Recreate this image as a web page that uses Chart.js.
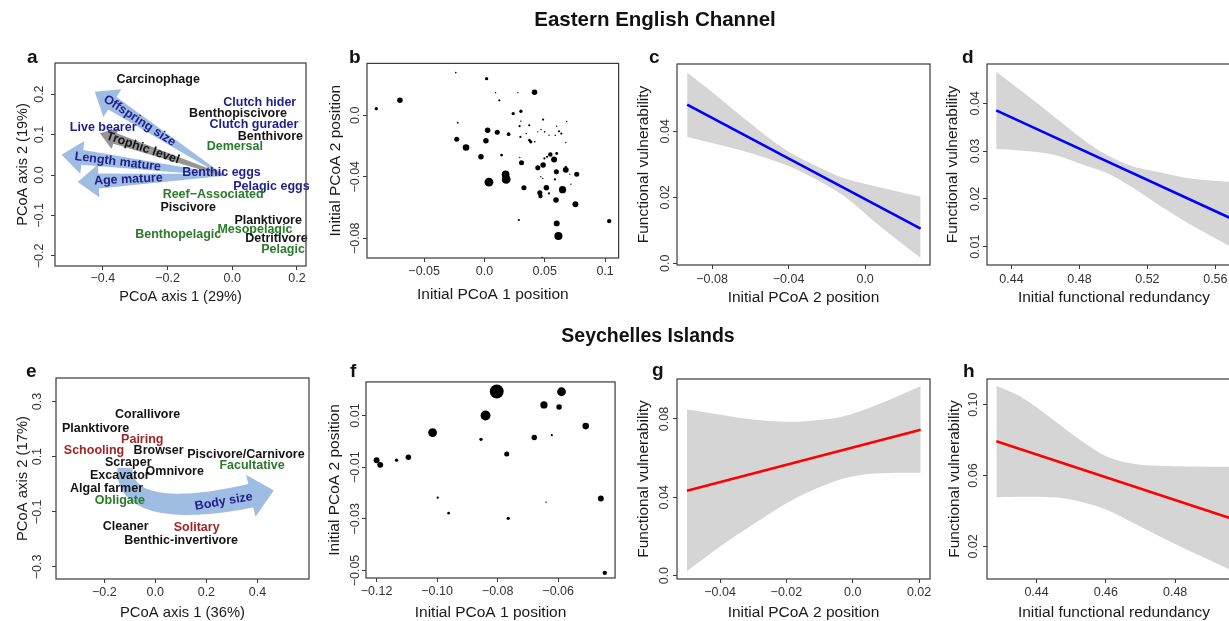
<!DOCTYPE html>
<html>
<head>
<meta charset="utf-8">
<title>Functional vulnerability</title>
<script src="https://cdn.jsdelivr.net/npm/chart.js@4.4.1/dist/chart.umd.min.js"></script>
<style>
  html, body { margin: 0; padding: 0; background: #fff; }
  body { width: 1229px; height: 621px; overflow: hidden; position: relative; }
  canvas { position: absolute; }
</style>
</head>
<body>
<canvas id="headings" width="1229" height="621" style="left:0;top:0;z-index:2"></canvas>
<script>
// ---------- panel a : trait space, English Channel ----------
var aXTicks = [-0.4, -0.2, 0.0, 0.2];
var aXLabels = ['\u22120.4', '\u22120.2', '0.0', '0.2'];
var aYTicks = [-0.2, -0.1, 0.0, 0.1, 0.2];
var aYLabels = ['\u22120.2', '\u22120.1', '0.0', '0.1', '0.2'];
var aTraitNames = ['Carcinophage', 'Clutch hider', 'Benthopiscivore', 'Clutch gurader', 'Benthivore', 'Demersal',
  'Live bearer', 'Benthic eggs', 'Pelagic eggs', 'Reef\u2212Associated', 'Piscivore', 'Planktivore',
  'Mesopelagic', 'Benthopelagic', 'Detritivore', 'Pelagic'];
var aTraitX = [-0.229, 0.085, 0.018, 0.067, 0.118, 0.008, -0.399, -0.033, 0.121, -0.059, -0.136, 0.111, 0.070, -0.167, 0.137, 0.157];
var aTraitY = [0.235, 0.178, 0.151, 0.124, 0.094, 0.070, 0.118, 0.006, -0.029, -0.048, -0.080, -0.113, -0.134, -0.148, -0.156, -0.185];
var aTraitKind = ['diet', 'repro', 'diet', 'repro', 'diet', 'habitat', 'repro', 'repro', 'repro', 'habitat', 'diet', 'diet',
  'habitat', 'habitat', 'diet', 'habitat'];
// continuous traits: arrow from origin to loading
var aArrowNames = ['Offspring size', 'Length mature', 'Age mature', 'Trophic level'];
var aArrowX = [-0.425, -0.528, -0.478, -0.409];
var aArrowY = [0.206, 0.050, -0.017, 0.103];
var aArrowOrigin = [-0.03, 0.0];

// ---------- panel b : species positions ----------
var bXTicks = [-0.05, 0.0, 0.05, 0.1];
var bXLabels = ['\u22120.05', '0.0', '0.05', '0.1'];
var bYTicks = [-0.08, -0.04, 0.0];
var bYLabels = ['\u22120.08', '\u22120.04', '0.0'];
var bX = [-0.0238, 0.0018, -0.0701, -0.0897, 0.0092, 0.0123, 0.0277, 0.0415, -0.0222, 0.0238, 0.0302, 0.0302,
  0.0291, 0.0371, 0.0486, 0.0026, 0.0106, 0.0200, 0.0298, 0.0347, 0.0384, 0.0373, 0.0417, 0.0442,
  0.0469, 0.0499, 0.0535, 0.0587, 0.0618, 0.0637, 0.0599, 0.0682, 0.0674, -0.0230, -0.0153, -0.0029,
  0.0012, 0.0142, 0.0307, 0.0293, 0.0442, 0.0486, 0.0497, 0.0519, 0.0546, 0.0599, 0.0577, 0.0596,
  0.0674, 0.0674, 0.0765, 0.0707, 0.0467, 0.0483, 0.0584, 0.0716, 0.0175, 0.0180, 0.0037, 0.0327,
  0.0459, 0.0513, 0.0535, 0.0464, 0.0647, 0.0593, 0.0754, 0.0285, 0.0599, 0.0613, 0.1034, 0.0478];
var bY = [0.0277, 0.0238, 0.0097, 0.0043, 0.0147, 0.0097, 0.0147, 0.0149, -0.0048, 0.0011, 0.0026, -0.0039,
  -0.0071, -0.0065, -0.0028, -0.0097, -0.0110, -0.0123, -0.0141, -0.0119, -0.0173, -0.0162, -0.0173, -0.0108,
  -0.0093, -0.0108, -0.0130, -0.0130, -0.0104, -0.0119, -0.0071, -0.0041, -0.0177, -0.0156, -0.0210, -0.0270,
  -0.0166, -0.0259, -0.0309, -0.0275, -0.0342, -0.0324, -0.0281, -0.0270, -0.0255, -0.0249, -0.0288, -0.0368,
  -0.0355, -0.0335, -0.0383, -0.0383, -0.0400, -0.0411, -0.0417, -0.0448, -0.0385, -0.0417, -0.0435, -0.0471,
  -0.0504, -0.0471, -0.0508, -0.0525, -0.0484, -0.0551, -0.0579, -0.0681, -0.0703, -0.0785, -0.0688, -0.0925];
// relative species weight (drawn as symbol size)
var bWeight = [0.7, 1.5, 2.5, 1.5, 0.6, 1.0, 0.6, 2.5, 0.8, 1.5, 1.5, 0.6,
  1.0, 1.0, 1.0, 2.5, 2.3, 1.7, 1.0, 0.7, 1.5, 1.2, 0.7, 0.6,
  0.6, 0.7, 0.5, 0.7, 1.0, 1.0, 0.4, 0.4, 0.6, 2.3, 3.0, 2.5,
  2.5, 1.3, 2.3, 0.6, 2.3, 2.5, 1.0, 1.0, 2.0, 1.3, 2.7, 2.3,
  2.7, 1.0, 2.3, 0.4, 0.5, 0.5, 1.0, 0.5, 3.5, 4.0, 4.0, 2.3,
  2.3, 2.5, 1.0, 2.0, 3.3, 2.5, 2.7, 1.0, 2.7, 3.7, 2.0, 0.7];

// ---------- panel c : vulnerability vs PCoA 2 ----------
var cXTicks = [-0.08, -0.04, 0.0];
var cXLabels = ['\u22120.08', '\u22120.04', '0.0'];
var cYTicks = [0.0, 0.02, 0.04];
var cYLabels = ['0.0', '0.02', '0.04'];
var cBandX = [-0.093, -0.08, -0.064, -0.041, -0.029, -0.011, 0.006, 0.029];
var cUpper = [0.0578, 0.0519, 0.0443, 0.0342, 0.0305, 0.0258, 0.0233, 0.0202];
var cLower = [0.0383, 0.0365, 0.0341, 0.0297, 0.0265, 0.0204, 0.0121, 0.0016];
var cFitX = [-0.093, 0.029];
var cFitY = [0.0481, 0.0105];

// ---------- panel d : vulnerability vs redundancy ----------
var dXTicks = [0.44, 0.48, 0.52, 0.56];
var dXLabels = ['0.44', '0.48', '0.52', '0.56'];
var dYTicks = [0.01, 0.02, 0.03, 0.04];
var dYLabels = ['0.01', '0.02', '0.03', '0.04'];
var dBandX = [0.431, 0.445, 0.465, 0.480, 0.496, 0.512, 0.528, 0.544, 0.570];
var dUpper = [0.0466, 0.0428, 0.0372, 0.0330, 0.0292, 0.0267, 0.0255, 0.0243, 0.0235];
var dLower = [0.0304, 0.0301, 0.0292, 0.0274, 0.0254, 0.0222, 0.0184, 0.0149, 0.0098];
var dFitX = [0.431, 0.570];
var dFitY = [0.0385, 0.0158];

// ---------- panel e : trait space, Seychelles ----------
var eXTicks = [-0.2, 0.0, 0.2, 0.4];
var eXLabels = ['\u22120.2', '0.0', '0.2', '0.4'];
var eYTicks = [-0.3, -0.1, 0.1, 0.3];
var eYLabels = ['\u22120.3', '\u22120.1', '0.1', '0.3'];
var eTraitNames = ['Corallivore', 'Planktivore', 'Pairing', 'Schooling', 'Browser', 'Piscivore/Carnivore', 'Facultative',
  'Scraper', 'Omnivore', 'Excavator', 'Algal farmer', 'Obligate', 'Cleaner', 'Solitary', 'Benthic-invertivore'];
var eTraitX = [-0.030, -0.234, -0.051, -0.240, 0.013, 0.355, 0.379, -0.106, 0.076, -0.139, -0.191, -0.139, -0.116, 0.162, 0.101];
var eTraitY = [0.251, 0.201, 0.163, 0.122, 0.122, 0.109, 0.069, 0.078, 0.046, 0.030, -0.016, -0.059, -0.154, -0.156, -0.204];
var eTraitKind = ['diet', 'diet', 'social', 'social', 'diet', 'diet', 'coral', 'diet', 'diet', 'diet', 'diet', 'coral',
  'diet', 'social', 'diet'];
// body size gradient: bezier path then arrow tip
var eSizePathX = [-0.119, -0.123, 0.018, 0.374];
var eSizePathY = [0.059, -0.057, -0.111, -0.042];
var eSizeTip = [0.464, -0.023];
var eSizeLabel = [0.268, -0.063];

// ---------- panel f : species positions ----------
var fXTicks = [-0.12, -0.10, -0.08, -0.06];
var fXLabels = ['\u22120.12', '\u22120.10', '\u22120.08', '\u22120.06'];
var fYTicks = [-0.05, -0.03, -0.01, 0.01];
var fYLabels = ['\u22120.05', '\u22120.03', '\u22120.01', '0.01'];
var fX = [-0.0803, -0.0589, -0.0647, -0.0597, -0.0840, -0.0509, -0.1015, -0.0855, -0.0679, -0.0621, -0.0770,
  -0.1200, -0.1188, -0.1134, -0.1095, -0.0998, -0.0962, -0.0765, -0.0640, -0.0459, -0.0446];
var fY = [0.0193, 0.0192, 0.0141, 0.0133, 0.0100, 0.0059, 0.0034, 0.0008, 0.0015, 0.0024, -0.0049,
  -0.0073, -0.0091, -0.0073, -0.0062, -0.0218, -0.0278, -0.0298, -0.0236, -0.0221, -0.0509];
var fWeight = [6.3, 4.0, 3.3, 2.5, 4.5, 3.0, 4.0, 1.5, 2.5, 1.0, 2.3, 2.7, 2.7, 1.5, 2.5, 1.0, 1.2, 1.5, 0.6, 2.7, 2.0];

// ---------- panel g : vulnerability vs PCoA 2 ----------
var gXTicks = [-0.04, -0.02, 0.0, 0.02];
var gXLabels = ['\u22120.04', '\u22120.02', '0.0', '0.02'];
var gYTicks = [0.0, 0.04, 0.08];
var gYLabels = ['0.0', '0.04', '0.08'];
var gBandX = [-0.050, -0.040, -0.030, -0.020, -0.013, -0.003, 0.007, 0.0205];
var gUpper = [0.0848, 0.0822, 0.0797, 0.0786, 0.0790, 0.0812, 0.0870, 0.0967];
var gLower = [0.0022, 0.0149, 0.0262, 0.0370, 0.0430, 0.0495, 0.0522, 0.0525];
var gFitX = [-0.050, 0.0205];
var gFitY = [0.0434, 0.0745];

// ---------- panel h : vulnerability vs redundancy ----------
var hXTicks = [0.44, 0.46, 0.48];
var hXLabels = ['0.44', '0.46', '0.48'];
var hYTicks = [0.02, 0.06, 0.10];
var hYLabels = ['0.02', '0.06', '0.10'];
var hBandX = [0.4284, 0.4352, 0.4448, 0.4525, 0.4602, 0.4679, 0.4756, 0.4834, 0.4962];
var hUpper = [0.1107, 0.1047, 0.0915, 0.0802, 0.0708, 0.0667, 0.0655, 0.0651, 0.0650];
var hLower = [0.0478, 0.0481, 0.0478, 0.0454, 0.0407, 0.0332, 0.0256, 0.0181, 0.0065];
var hFitX = [0.4284, 0.4962];
var hFitY = [0.0793, 0.0357];

// ---------- drawing ----------
var FONT = '"Liberation Sans", Arial, Helvetica, sans-serif';
Chart.defaults.font.family = FONT;
Chart.defaults.animation = false;

var KIND_COLOR = { diet: '#141414', repro: '#1e1e8c', habitat: '#2a7a2a', social: '#a02626', coral: '#2a7a2a' };
var ARROW_BLUE = 'rgba(135,172,220,0.8)';
var ARROW_GREY = '#959595';
var BAND = '#d5d5d5';
var DOT_SCALE = 1.1;

// box, rotated y tick labels (R style)
var rAxis = {
  id: 'rAxis',
  afterDraw: function(chart, args, opts) {
    var ctx = chart.ctx, ca = chart.chartArea, ys = chart.scales.y;
    ctx.save();
    ctx.strokeStyle = '#3a3a3a'; ctx.lineWidth = 1.2;
    ctx.strokeRect(ca.left, ca.top, ca.right - ca.left, ca.bottom - ca.top);
    ctx.fillStyle = '#333';
    ctx.font = '12.5px ' + FONT;
    ctx.textAlign = 'center'; ctx.textBaseline = 'middle';
    ys.ticks.forEach(function(t) {
      var p = ys.getPixelForValue(t.value);
      ctx.save();
      ctx.translate(ca.left - opts.yl, p);
      ctx.rotate(-Math.PI / 2);
      ctx.fillText(t.label, 0, 0);
      ctx.restore();
    });
    ctx.restore();
  }
};
Chart.register(rAxis);

function fatArrow(ctx, x0, y0, x1, y1, tail, shaft, headW, headL) {
  var dx = x1 - x0, dy = y1 - y0, len = Math.hypot(dx, dy);
  var ux = dx / len, uy = dy / len, nx = -uy, ny = ux;
  var bx = x1 - ux * headL, by = y1 - uy * headL;
  ctx.beginPath();
  ctx.moveTo(x0 + nx * tail / 2, y0 + ny * tail / 2);
  ctx.lineTo(bx + nx * shaft / 2, by + ny * shaft / 2);
  ctx.lineTo(bx + nx * headW / 2, by + ny * headW / 2);
  ctx.lineTo(x1, y1);
  ctx.lineTo(bx - nx * headW / 2, by - ny * headW / 2);
  ctx.lineTo(bx - nx * shaft / 2, by - ny * shaft / 2);
  ctx.lineTo(x0 - nx * tail / 2, y0 - ny * tail / 2);
  ctx.closePath();
  ctx.fill();
}

function curvedArrow(ctx, P, tip, w0, w1, headW) {
  var N = 40, left = [], right = [];
  for (var i = 0; i <= N; i++) {
    var t = i / N, m = 1 - t;
    var x = m*m*m*P[0][0] + 3*m*m*t*P[1][0] + 3*m*t*t*P[2][0] + t*t*t*P[3][0];
    var y = m*m*m*P[0][1] + 3*m*m*t*P[1][1] + 3*m*t*t*P[2][1] + t*t*t*P[3][1];
    var tx = 3*m*m*(P[1][0]-P[0][0]) + 6*m*t*(P[2][0]-P[1][0]) + 3*t*t*(P[3][0]-P[2][0]);
    var ty = 3*m*m*(P[1][1]-P[0][1]) + 6*m*t*(P[2][1]-P[1][1]) + 3*t*t*(P[3][1]-P[2][1]);
    var l = Math.hypot(tx, ty), nx = -ty / l, ny = tx / l, w = (w0 + (w1 - w0) * t) / 2;
    left.push([x + nx * w, y + ny * w]); right.push([x - nx * w, y - ny * w]);
  }
  var e = P[3], hx = tip[0] - e[0], hy = tip[1] - e[1], hl = Math.hypot(hx, hy);
  var hnx = -hy / hl, hny = hx / hl;
  ctx.beginPath();
  ctx.moveTo(left[0][0], left[0][1]);
  left.forEach(function(p) { ctx.lineTo(p[0], p[1]); });
  ctx.lineTo(e[0] + hnx * headW / 2, e[1] + hny * headW / 2);
  ctx.lineTo(tip[0], tip[1]);
  ctx.lineTo(e[0] - hnx * headW / 2, e[1] - hny * headW / 2);
  for (var j = right.length - 1; j >= 0; j--) ctx.lineTo(right[j][0], right[j][1]);
  ctx.closePath();
  ctx.fill();
}

function drawWords(ctx, sx, sy, names, xs, ys, kinds) {
  ctx.font = 'bold 12.5px ' + FONT;
  ctx.textAlign = 'center'; ctx.textBaseline = 'middle';
  names.forEach(function(n, i) {
    ctx.fillStyle = KIND_COLOR[kinds[i]];
    ctx.fillText(n, sx.getPixelForValue(xs[i]), sy.getPixelForValue(ys[i]));
  });
}

function axisOpts(a, horizontal, g, titleSize) {
  var lh = titleSize * 1.2;
  return {
    type: 'linear', min: a.min, max: a.max,
    afterBuildTicks: function(s) { s.ticks = a.ticks.map(function(v) { return { value: v }; }); },
    afterFit: function(s) { if (horizontal) s.height = 50; else s.width = 60; },
    grid: { display: true, drawOnChartArea: false, drawTicks: true, tickLength: 4, color: '#3a3a3a', lineWidth: 1 },
    border: { display: false },
    ticks: {
      display: horizontal, autoSkip: false, maxRotation: 0, minRotation: 0,
      callback: function(v, i) { return a.labels[i]; },
      color: '#333', font: { size: 12.5 },
      padding: horizontal ? g.xl - 4 - 7.5 : 0
    },
    title: {
      display: true, text: a.title, color: '#1a1a1a', font: { size: titleSize },
      padding: horizontal ? { top: 0, bottom: 50 - g.xt - lh / 2 } : { top: 60 - g.yt - lh / 2, bottom: 0 }
    }
  };
}

function makePanel(p) {
  var L = Math.round(p.box[0]) - 60, T = Math.round(p.box[1]) - 4;
  var W = Math.round(p.box[2]) + 4 - L, H = Math.round(p.box[3]) + 50 - T;
  var cv = document.createElement('canvas');
  cv.width = W; cv.height = H;
  cv.style.left = L + 'px'; cv.style.top = T + 'px';
  cv.style.width = W + 'px'; cv.style.height = H + 'px';
  document.body.appendChild(cv);
  var ts = p.titleSize || 15.5;
  return new Chart(cv, {
    type: 'scatter',
    data: { datasets: p.datasets || [] },
    options: {
      responsive: false, animation: false, devicePixelRatio: 1,
      layout: { padding: { top: 4, right: 4, left: 0, bottom: 0 } },
      plugins: { legend: { display: false }, tooltip: { enabled: false }, rAxis: { yl: p.gaps.yl } },
      scales: { x: axisOpts(p.x, true, p.gaps, ts), y: axisOpts(p.y, false, p.gaps, ts) }
    },
    plugins: p.extra ? [p.extra] : []
  });
}

function zip(xs, ys) { return xs.map(function(x, i) { return { x: x, y: ys[i] }; }); }

// fitted line first so it is painted over the confidence band
function bandSets(bx, up, lo, fx, fy, color) {
  return [
    { type: 'line', data: zip(fx, fy), showLine: true, borderColor: color, borderWidth: 2.6,
      pointRadius: 0, fill: false },
    { type: 'line', data: zip(bx, up), showLine: true, borderColor: 'rgba(0,0,0,0)', borderWidth: 0, pointRadius: 0,
      fill: '+1', backgroundColor: BAND, cubicInterpolationMode: 'monotone' },
    { type: 'line', data: zip(bx, lo), showLine: true, borderColor: 'rgba(0,0,0,0)', borderWidth: 0, pointRadius: 0,
      fill: false, cubicInterpolationMode: 'monotone' }
  ];
}

function dotSet(xs, ys, ws) {
  return [{
    data: xs.map(function(x, i) { return { x: x, y: ys[i], w: ws[i] }; }),
    backgroundColor: '#000', borderWidth: 0,
    pointRadius: function(c) { return c.raw ? Math.max(0.7, c.raw.w * DOT_SCALE) : 0; }
  }];
}

// panel a
makePanel({
  box: [55, 63, 306, 266], titleSize: 14.5,
  gaps: { xl: 12.3, xt: 30.7, yl: 15, yt: 32 },
  x: { min: -0.548, max: 0.228, ticks: aXTicks, labels: aXLabels, title: 'PCoA axis 1 (29%)' },
  y: { min: -0.225, max: 0.277, ticks: aYTicks, labels: aYLabels, title: 'PCoA axis 2 (19%)' },
  extra: {
    id: 'traitsA',
    afterDatasetsDraw: function(chart) {
      var ctx = chart.ctx, sx = chart.scales.x, sy = chart.scales.y;
      var ox = sx.getPixelForValue(aArrowOrigin[0]), oy = sy.getPixelForValue(aArrowOrigin[1]);
      ctx.save();
      aArrowNames.forEach(function(n, i) {
        var grey = n === 'Trophic level';
        ctx.fillStyle = grey ? ARROW_GREY : ARROW_BLUE;
        var tx = sx.getPixelForValue(aArrowX[i]), ty = sy.getPixelForValue(aArrowY[i]);
        if (grey) fatArrow(ctx, ox, oy, tx, ty, 2, 11, 22, 16);
        else fatArrow(ctx, ox, oy, tx, ty, 2, 15, 33, 21);
      });
      drawWords(ctx, sx, sy, aTraitNames, aTraitX, aTraitY, aTraitKind);
      // arrow names run along their arrows
      ctx.font = 'bold 12.5px ' + FONT;
      aArrowNames.forEach(function(n, i) {
        var tx = sx.getPixelForValue(aArrowX[i]), ty = sy.getPixelForValue(aArrowY[i]);
        var lx = ox + (tx - ox) * 0.65, ly = oy + (ty - oy) * 0.65;
        ctx.save();
        ctx.translate(lx, ly);
        ctx.rotate(Math.atan2(oy - ty, ox - tx));
        ctx.fillStyle = n === 'Trophic level' ? '#141414' : KIND_COLOR.repro;
        ctx.fillText(n, 0, 0);
        ctx.restore();
      });
      ctx.restore();
    }
  }
});

// panel b
makePanel({
  box: [367, 63, 619, 258],
  gaps: { xl: 13.4, xt: 36.7, yl: 11, yt: 31.7 },
  x: { min: -0.0974, max: 0.1112, ticks: bXTicks, labels: bXLabels, title: 'Initial PCoA 1 position' },
  y: { min: -0.0928, max: 0.0337, ticks: bYTicks, labels: bYLabels, title: 'Initial PCoA 2 position' },
  datasets: dotSet(bX, bY, bWeight)
});

// panel c
makePanel({
  box: [677, 64, 930, 265],
  gaps: { xl: 14.3, xt: 32.7, yl: 11.7, yt: 33.7 },
  x: { min: -0.0983, max: 0.0339, ticks: cXTicks, labels: cXLabels, title: 'Initial PCoA 2 position' },
  y: { min: -0.0005, max: 0.0604, ticks: cYTicks, labels: cYLabels, title: 'Functional vulnerability' },
  datasets: bandSets(cBandX, cUpper, cLower, cFitX, cFitY, '#0000ff')
});

// panel d
makePanel({
  box: [987, 64, 1241, 265],
  gaps: { xl: 14.3, xt: 32.7, yl: 11.7, yt: 34 },
  x: { min: 0.4256, max: 0.5751, ticks: dXTicks, labels: dXLabels, title: 'Initial functional redundancy' },
  y: { min: 0.00617, max: 0.0482, ticks: dYTicks, labels: dYLabels, title: 'Functional vulnerability' },
  datasets: bandSets(dBandX, dUpper, dLower, dFitX, dFitY, '#0000ff')
});

// panel e
makePanel({
  box: [56, 378, 309, 579], titleSize: 14.8,
  gaps: { xl: 14, xt: 34, yl: 18, yt: 33 },
  x: { min: -0.389, max: 0.602, ticks: eXTicks, labels: eXLabels, title: 'PCoA axis 1 (36%)' },
  y: { min: -0.3435, max: 0.385, ticks: eYTicks, labels: eYLabels, title: 'PCoA axis 2 (17%)' },
  extra: {
    id: 'traitsE',
    afterDatasetsDraw: function(chart) {
      var ctx = chart.ctx, sx = chart.scales.x, sy = chart.scales.y;
      var P = eSizePathX.map(function(x, i) { return [sx.getPixelForValue(x), sy.getPixelForValue(eSizePathY[i])]; });
      var tip = [sx.getPixelForValue(eSizeTip[0]), sy.getPixelForValue(eSizeTip[1])];
      ctx.save();
      ctx.fillStyle = ARROW_BLUE;
      curvedArrow(ctx, P, tip, 15, 24, 43);
      drawWords(ctx, sx, sy, eTraitNames, eTraitX, eTraitY, eTraitKind);
      ctx.translate(sx.getPixelForValue(eSizeLabel[0]), sy.getPixelForValue(eSizeLabel[1]));
      ctx.rotate(-10 * Math.PI / 180);
      ctx.fillStyle = KIND_COLOR.repro;
      ctx.fillText('Body size', 0, 0);
      ctx.restore();
    }
  }
});

// panel f
makePanel({
  box: [366, 379, 618, 578],
  gaps: { xl: 13.4, xt: 35, yl: 10.3, yt: 31 },
  x: { min: -0.1235, max: -0.0412, ticks: fXTicks, labels: fXLabels, title: 'Initial PCoA 1 position' },
  y: { min: -0.0529, max: 0.023, ticks: fYTicks, labels: fYLabels, title: 'Initial PCoA 2 position' },
  datasets: dotSet(fX, fY, fWeight)
});

// panel g
makePanel({
  box: [677, 379, 930, 579],
  gaps: { xl: 14, xt: 34, yl: 12.7, yt: 33.7 },
  x: { min: -0.053, max: 0.0233, ticks: gXTicks, labels: gXLabels, title: 'Initial PCoA 2 position' },
  y: { min: -0.0017, max: 0.1004, ticks: gYTicks, labels: gYLabels, title: 'Functional vulnerability' },
  datasets: bandSets(gBandX, gUpper, gLower, gFitX, gFitY, '#ff0000')
});

// panel h
makePanel({
  box: [987, 379, 1241, 579],
  gaps: { xl: 14, xt: 34, yl: 13, yt: 32.3 },
  x: { min: 0.4257, max: 0.499, ticks: hXTicks, labels: hXLabels, title: 'Initial functional redundancy' },
  y: { min: 0.0016, max: 0.1145, ticks: hYTicks, labels: hYLabels, title: 'Functional vulnerability' },
  datasets: bandSets(hBandX, hUpper, hLower, hFitX, hFitY, '#ff0000')
});

// region headings and panel letters
(function() {
  var g = document.getElementById('headings').getContext('2d');
  g.fillStyle = '#111';
  g.textAlign = 'center';
  g.font = 'bold 20.5px ' + FONT;
  g.fillText('Eastern English Channel', 655, 26);
  g.font = 'bold 19.5px ' + FONT;
  g.fillText('Seychelles Islands', 648, 342);
  g.textAlign = 'left';
  g.font = 'bold 19px ' + FONT;
  [['a', 27, 63], ['b', 349, 63], ['c', 649, 63], ['d', 962, 63],
   ['e', 26, 377], ['f', 350, 377], ['g', 652, 376], ['h', 963, 377]].forEach(function(l) {
    g.fillText(l[0], l[1], l[2]);
  });
})();
</script>
</body>
</html>
